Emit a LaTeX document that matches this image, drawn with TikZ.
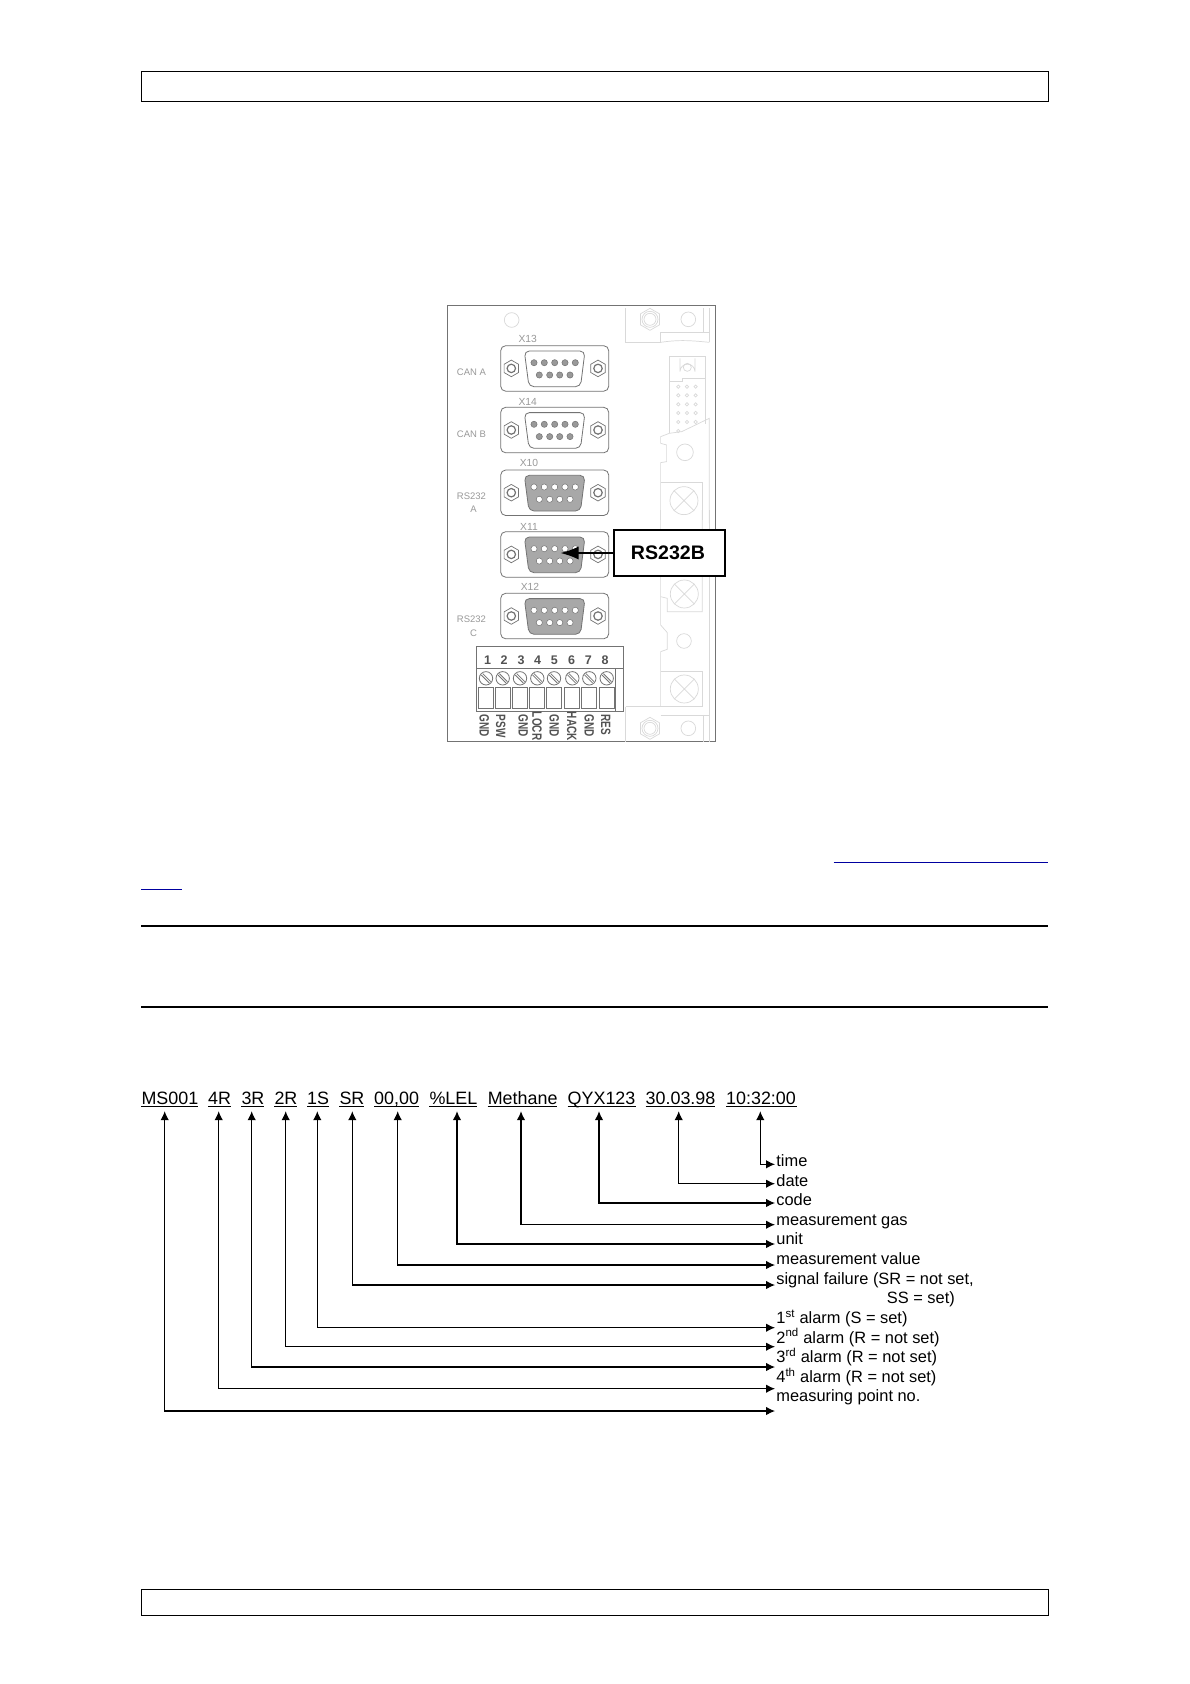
\documentclass[tikz,border=0pt]{standalone}
\usepackage{graphicx}
\usepackage{fontspec}
\setmainfont{Liberation Sans}
\usetikzlibrary{arrows.meta}
\definecolor{panelline}{gray}{0.45}
\definecolor{lightline}{gray}{0.85}
\definecolor{paneltext}{gray}{0.60}
\definecolor{termtext}{gray}{0.32}
\definecolor{shellgrey}{gray}{0.66}
\definecolor{linkblue}{RGB}{0,0,160}
\tikzset{
  pagebox/.style={draw=black,line width=0.9pt,fill=white},
  rulethick/.style={draw=black,line width=1.8pt},
  rulelink/.style={draw=linkblue,line width=1pt},
  light/.style={draw=lightline,line width=0.7pt},
  wire/.style={draw=panelline,line width=0.8pt},
  plabel/.style={text=paneltext,font=\fontsize{9.5}{11}\selectfont,inner sep=0pt},
  xlabel/.style={plabel,font=\fontsize{10.3}{12}\selectfont},
  tnum/.style={text=termtext,font=\bfseries\fontsize{12.5}{14}\selectfont,inner sep=0pt},
  tname/.style={text=termtext,font=\bfseries\fontsize{10}{12}\selectfont,inner sep=0pt,rotate=-90,anchor=west},
  callout/.style={draw=black,line width=1.6pt,fill=white,minimum width=111pt,minimum height=46pt,inner sep=0pt,font=\bfseries\fontsize{19.6}{22}\selectfont},
  calloutarrow/.style={draw=black,line width=1.6pt,-{Latex[length=18pt,width=13pt]}},
  head/.style={anchor=base west,inner sep=0pt,font=\fontsize{17.9}{20}\selectfont},
  uline/.style={draw=black,line width=1pt},
  lbl/.style={anchor=base west,inner sep=0pt,font=\fontsize{16.4}{19}\selectfont},
  conn/.style={draw=black,line width=1.1pt,{Latex[length=9pt,width=8.5pt]}-{Latex[length=9pt,width=8.5pt]}},
}
\newcommand{\tn}[1]{\scalebox{1}[1.35]{#1}}
\newcommand{\hexnut}[4][panelline]{%
  \draw[draw=#1,line width=0.7pt,shift={(#2,#3)}] (90:#4)--(150:#4)--(210:#4)--(270:#4)--(330:#4)--(30:#4)--cycle;}
\newcommand{\dconn}[3]{% top y, shell fill, pin fill
  \draw[wire,rounded corners=5pt] (500.7,#1) rectangle (608.7,#1+45.5);
  \draw[wire,fill=#2,rounded corners=5pt] (524.3,#1+5.3)--(585,#1+5.3)--(580.5,#1+41)--(529,#1+41)--cycle;
  \foreach \px in {534,544.3,554.7,565,575.3}{\draw[draw=panelline,line width=0.5pt,fill=#3] (\px,#1+17) circle (3.1);}
  \foreach \px in {539.3,549.7,559.7,570}{\draw[draw=panelline,line width=0.5pt,fill=#3] (\px,#1+29.3) circle (3.1);}
  \foreach \sx in {511.3,598}{
    \hexnut{\sx}{#1+22.7}{8.3}
    \draw[draw=panelline,line width=1.2pt] (\sx,#1+22.7) circle (4.2);
  }
}
\begin{document}
\begin{tikzpicture}[x=1pt,y=-1pt]
\useasboundingbox (0,0) rectangle (1190,1684);
\fill[white] (0,0) rectangle (1190,1684);

% page frames and rules
\draw[pagebox] (141,71) rectangle (1048,101);
\draw[pagebox] (141,1589) rectangle (1048,1615);
\draw[rulethick] (141,926) -- (1048,926);
\draw[rulethick] (141,1007) -- (1048,1007);
\draw[rulelink] (833.5,862.5) -- (1048,862.5);
\draw[rulelink] (141,889) -- (181.5,889);

% ---------- panel
\draw[draw=panelline,line width=1.3pt] (447.3,305.7) rectangle (715.3,741.7);

% light detail, upper half (zoom coordinates)
\begin{scope}[shift={(430,290)},x=0.3333pt,y=-0.3333pt]
  \draw[light] (587,55)--(587,157)--(692,157);
  \draw[light] (692,157)--(692,128)--(838,128)--(838,157);
  \draw[light] (692,157) .. controls (740,150) and (770,150) .. (838,157);
  \draw[light] (820,55)--(820,128) (838,55)--(838,128);
  \draw[light,shift={(660,88)}] (90:33)--(150:33)--(210:33)--(270:33)--(330:33)--(30:33)--cycle;
  \draw[light] (660,88) circle (24) (660,88) circle (18);
  \draw[light] (775,88) circle (22) (245,90) circle (22);
  \draw[light] (718,198)--(825,198)--(825,403);
  \draw[light] (718,198)--(718,430);
  \draw[light] (718,275)--(757,275)--(757,265)--(825,265);
  \draw[light] (750,205)--(750,245) arc[start angle=180,end angle=360,radius=22.5] --(795,205);
  \draw[light] (772,232) circle (12);
  \foreach \yy in {290,316,343,369,396}{\foreach \xx in {745,771,797}{\draw[light] (\xx,\yy) circle (5);}}
  \draw[light] (745,423) circle (5);
  \draw[light] (692,460)--(692,440)--(718,430)--(755,425)--(838,385)--(838,700);
  \draw[light] (692,460)--(710,465)--(710,515)--(692,518)--(692,690);
  \draw[light] (765,487) circle (25);
  \draw[light] (692,578)--(817,578)--(817,690);
  \draw[light] (762,632) circle (42);
  \draw[light] (732,602)--(792,662) (732,662)--(792,602);
\end{scope}
% light detail, lower half
\begin{scope}[shift={(430,510)},x=0.3333pt,y=-0.3333pt]
  \draw[light] (817,0)--(817,305)--(712,305)--(712,265)--(692,260);
  \draw[light] (692,0)--(692,345)--(712,368)--(712,418)--(692,425)--(692,590);
  \draw[light] (763,252) circle (42);
  \draw[light] (733,222)--(793,282) (733,282)--(793,222);
  \draw[light] (762,393) circle (22);
  \draw[light] (692,485)--(817,485)--(817,590)--(692,590);
  \draw[light] (763,537) circle (42);
  \draw[light] (733,507)--(793,567) (733,567)--(793,507);
  \draw[light] (838,0)--(838,695);
  \draw[light] (587,590)--(692,590) (587,590)--(587,695);
  \draw[light] (692,615)--(838,615) (820,615)--(820,695);
  \draw[light,shift={(660,655)}] (90:33)--(150:33)--(210:33)--(270:33)--(330:33)--(30:33)--cycle;
  \draw[light] (660,655) circle (24) (660,655) circle (18);
  \draw[light] (775,655) circle (22);
\end{scope}

% D-sub connectors
\dconn{345.7}{white}{paneltext}
\dconn{407.3}{white}{paneltext}
\dconn{470}{shellgrey}{white}
\dconn{531.7}{shellgrey}{white}
\dconn{593.3}{shellgrey}{white}

\node[xlabel] (x13) at (527.7,339.3) {X13};
\node[xlabel] (x14) at (527.7,402) {X14};
\node[xlabel] (x10) at (529,463) {X10};
\node[xlabel] (x11) at (529,526.7) {X11};
\node[xlabel] (x12) at (530,587.3) {X12};
\node[plabel] (cana) at (471.5,372) {CAN A};
\node[plabel] (canb) at (471.5,434) {CAN B};
\node[plabel] (rsa1) at (471.5,496) {RS232};
\node[plabel] (rsa2) at (473.5,509) {A};
\node[plabel] (rsc1) at (471.5,619.7) {RS232};
\node[plabel] (rsc2) at (473.5,633) {C};

% terminal block
\draw[wire] (476.7,646.7) rectangle (623.7,711.3);
\draw[wire] (476.7,668) -- (623.7,668);
\foreach \nx/\nn/\rx in {487.7/1/486,504/2/502.7,521/3/520,537.7/4/537.3,554.3/5/554,571.7/6/572.3,588.3/7/589.3,605/8/606.7}{
  \node[tnum] (t\nn) at (\nx,660.3) {\nn};
  \draw[wire] (\rx-7.5,687.3) rectangle (\rx+7.5,708.7);
  \draw[wire] (\rx,678.3) circle (6.7);
  \draw[draw=panelline,line width=0.8pt] (\rx-4.7,675) -- (\rx+3.3,683) (\rx-3.3,673.6) -- (\rx+4.7,681.6);
}
\draw[wire] (615.5,668) -- (615.5,711.3);
\node[tname] (n1) at (484.3,714.7) {\tn{GND}};
\node[tname] (n2) at (500.7,714.7) {\tn{PSW}};
\node[tname] (n3) at (523.3,714.7) {\tn{GND}};
\node[tname] (n4) at (537,711.7) {\tn{LOCR}};
\node[tname] (n5) at (554.3,714.7) {\tn{GND}};
\node[tname] (n6) at (571.7,711.7) {\tn{HACK}};
\node[tname] (n7) at (589.3,714.7) {\tn{GND}};
\node[tname] (n8) at (605.7,714) {\tn{RES}};

% callout
\node[callout] (rsb) at (669.5,553) {\hspace*{-3pt}RS232B};
\coordinate (rsbtip) at (560.5,553);
\draw[calloutarrow] (rsb.west) -- (rsbtip);

% ---------- header row
\node[head] (h1) at (141.3,1104) {MS001};
\node[head] (h2) at (208,1104) {4R};
\node[head] (h3) at (241.3,1104) {3R};
\node[head] (h4) at (274.3,1104) {2R};
\node[head] (h5) at (307,1104) {1S};
\node[head] (h6) at (339.3,1104) {SR};
\node[head] (h7) at (374,1104) {00,00};
\node[head] (h8) at (429.3,1104) {\%LEL};
\node[head] (h9) at (487.6,1104) {Methane};
\node[head] (h10) at (567.5,1104) {QYX123};
\node[head] (h11) at (645.5,1104) {30.03.98};
\node[head] (h12) at (726,1104) {10:32:00};
\foreach \a/\b in {141.3/198,208/230.7,241.3/264,274.3/296.7,307/329,339.3/364,374/419.3,429.3/477.3,487.6/557.4,567.5/636,645.5/715.3,726/797}{
  \draw[uline] (\a,1106.6) -- (\b,1106.6);
}

% ---------- labels
\node[lbl] (l1) at (776.2,1166.7) {time};
\node[lbl] (l2) at (776.2,1186.3) {date};
\node[lbl] (l3) at (776.2,1205.7) {code};
\node[lbl] (l4) at (776.2,1225) {measurement gas};
\node[lbl] (l5) at (776.2,1244.7) {unit};
\node[lbl] (l6) at (776.2,1264) {measurement value};
\node[lbl] (l7) at (776.2,1284) {signal failure (SR = not set,};
\node[lbl] (l7b) at (886.7,1303.3) {SS = set)};
\node[lbl] (l8) at (776.2,1323.7) {1\textsuperscript{st} alarm (S = set)};
\node[lbl] (l9) at (776.2,1343) {2\textsuperscript{nd} alarm (R = not set)};
\node[lbl] (l10) at (776.2,1362.7) {3\textsuperscript{rd} alarm (R = not set)};
\node[lbl] (l11) at (776.2,1382.3) {4\textsuperscript{th} alarm (R = not set)};
\node[lbl] (l12) at (776.2,1401.7) {measuring point no.};

% ---------- connectors: upper end under the heading, lower end at the label
\foreach \nm/\vx/\hy in {a/760.3/1164.3,b/678.7/1183.7,c/599/1203,d/521/1224.7,e/457/1244,f/397.7/1265,g/352.3/1285,h/317.3/1327.7,i/285.7/1346.7,j/251.7/1367,k/218.7/1388.7,l/164.7/1411}{
  \coordinate (up\nm) at (\vx,1111.2);
  \coordinate (end\nm) at (775,\hy);
  \draw[conn] (up\nm) |- (end\nm);
}
\end{tikzpicture}
\end{document}
